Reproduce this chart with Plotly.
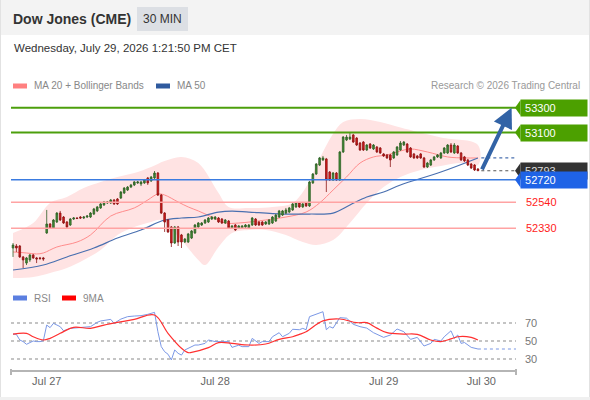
import plotly.graph_objects as go

W, H = 590, 400

# ---- candle data (30 min bars, index 0 = first bar on the chart)
opens = [52172, 52188, 52188, 52100, 52051, 52076, 52116, 52092, 52092, 52092,
         52293, 52365, 52333, 52381, 52453, 52421, 52381, 52357, 52405, 52413,
         52421, 52413, 52421, 52421, 52445, 52470, 52494, 52518, 52534, 52534,
         52558, 52566, 52574, 52614, 52638, 52662, 52679, 52695, 52687, 52695,
         52735, 52711, 52735, 52775, 52598, 52453, 52397, 52341, 52212, 52341,
         52277, 52220, 52220, 52252, 52293, 52341, 52357, 52373, 52381, 52405,
         52405, 52413, 52405, 52373, 52389, 52333, 52357, 52333, 52333, 52341,
         52333, 52357, 52405, 52381, 52381, 52365, 52365, 52373, 52389, 52421,
         52437, 52453, 52461, 52478, 52502, 52534, 52502, 52534, 52510, 52695,
         52767, 52839, 52880, 52888, 52783, 52719, 52775, 52719, 52944, 53040,
         53048, 53081, 53056, 53016, 53024, 52960, 53008, 52968, 52984, 52976,
         52928, 52920, 52920, 52896, 52920, 52960, 53000, 53008, 52976, 52928,
         52912, 52928, 52896, 52823, 52839, 52880, 52904, 52896, 52936, 52936,
         53000, 52936, 52992, 52936, 52904, 52880, 52847, 52839, 52807]
highs = [52212, 52204, 52196, 52108, 52100, 52124, 52124, 52100, 52100, 52100,
         52478, 52373, 52405, 52461, 52470, 52429, 52389, 52413, 52421, 52421,
         52429, 52429, 52437, 52461, 52494, 52510, 52534, 52550, 52550, 52566,
         52566, 52574, 52630, 52662, 52670, 52687, 52711, 52711, 52711, 52727,
         52743, 52751, 52791, 52783, 52606, 52461, 52405, 52349, 52349, 52349,
         52285, 52252, 52293, 52317, 52365, 52381, 52381, 52405, 52421, 52429,
         52429, 52421, 52413, 52405, 52397, 52357, 52365, 52357, 52357, 52365,
         52365, 52421, 52413, 52389, 52389, 52389, 52405, 52429, 52445, 52478,
         52478, 52494, 52502, 52534, 52542, 52542, 52534, 52542, 52711, 52775,
         52855, 52904, 52912, 52896, 52791, 52783, 52783, 52952, 53072, 53081,
         53097, 53089, 53064, 53024, 53032, 53008, 53016, 53008, 52992, 52984,
         52936, 52928, 52928, 52952, 52992, 53032, 53032, 53016, 52984, 52936,
         52920, 52936, 52904, 52864, 52888, 52912, 52928, 52944, 52984, 53008,
         53016, 53016, 53000, 52944, 52912, 52888, 52855, 52847, 52815]
lows = [52100, 52140, 52092, 52011, 52035, 52060, 52084, 52051, 52076, 52068,
        52285, 52325, 52325, 52373, 52389, 52365, 52333, 52349, 52397, 52405,
        52405, 52405, 52413, 52413, 52437, 52461, 52486, 52510, 52526, 52526,
        52518, 52518, 52566, 52606, 52630, 52654, 52670, 52687, 52670, 52687,
        52679, 52703, 52727, 52590, 52445, 52301, 52293, 52180, 52204, 52188,
        52172, 52212, 52212, 52244, 52285, 52333, 52349, 52365, 52373, 52397,
        52397, 52373, 52365, 52365, 52325, 52325, 52309, 52325, 52325, 52333,
        52325, 52349, 52349, 52349, 52349, 52357, 52357, 52365, 52381, 52413,
        52429, 52445, 52453, 52470, 52494, 52494, 52494, 52502, 52502, 52687,
        52759, 52831, 52872, 52622, 52711, 52711, 52711, 52711, 52936, 53032,
        53040, 53016, 52992, 52952, 52952, 52952, 52968, 52960, 52936, 52928,
        52904, 52888, 52823, 52888, 52912, 52952, 52992, 52936, 52896, 52888,
        52888, 52888, 52815, 52815, 52831, 52872, 52896, 52888, 52928, 52928,
        52936, 52928, 52928, 52872, 52864, 52831, 52807, 52791, 52791]
closes = [52196, 52172, 52100, 52076, 52092, 52116, 52092, 52084, 52088, 52084,
          52365, 52333, 52397, 52453, 52397, 52373, 52341, 52405, 52413, 52409,
          52413, 52421, 52429, 52453, 52486, 52502, 52526, 52542, 52542, 52558,
          52526, 52526, 52622, 52654, 52662, 52679, 52703, 52703, 52703, 52719,
          52695, 52743, 52775, 52598, 52453, 52381, 52301, 52212, 52341, 52220,
          52220, 52244, 52285, 52309, 52357, 52373, 52373, 52397, 52413, 52421,
          52421, 52381, 52373, 52397, 52333, 52349, 52317, 52349, 52349, 52357,
          52357, 52413, 52357, 52357, 52357, 52381, 52397, 52421, 52437, 52470,
          52470, 52478, 52494, 52526, 52534, 52502, 52526, 52510, 52703, 52767,
          52847, 52896, 52896, 52719, 52719, 52775, 52719, 52944, 53064, 53064,
          53064, 53024, 53000, 52960, 52960, 53000, 52976, 53000, 52944, 52936,
          52912, 52896, 52880, 52944, 52984, 53016, 53024, 52944, 52904, 52896,
          52896, 52896, 52823, 52855, 52880, 52904, 52920, 52936, 52976, 53000,
          52944, 53000, 52936, 52880, 52872, 52839, 52815, 52799, 52793]

# moving averages / bollinger bands at these bar indices
ma20_idx = [0, 4, 7, 9, 13, 19, 23, 29, 36, 40, 43, 45, 49, 52, 55, 59, 63, 67,
            75, 81, 87, 91, 95, 99, 103, 107, 111, 115, 118, 123, 129, 134, 138]
ma20 = [52140, 52132, 52124, 52132, 52180, 52220, 52277, 52429, 52494, 52558,
        52606, 52598, 52542, 52502, 52470, 52421, 52373, 52373, 52397, 52421,
        52461, 52534, 52638, 52743, 52855, 52904, 52920, 52952, 52968, 52944,
        52904, 52896, 52896]
upper_idx = [0, 6, 11, 16, 21, 26, 31, 36, 41, 45, 50, 55, 61, 64, 70, 77, 83,
             87, 91, 95, 98, 103, 109, 115, 127, 138]
upper = [52293, 52373, 52534, 52582, 52654, 52703, 52743, 52775, 52823, 52871,
         52904, 52855, 52614, 52502, 52494, 52502, 52534, 52662, 52890, 53090,
         53185, 53210, 53185, 53140, 53060, 53000]
lower_idx = [0, 6, 11, 16, 21, 26, 31, 36, 41, 44, 48, 50, 55, 57, 61, 65, 70,
             75, 81, 86, 90, 95, 100, 105, 110, 115, 121, 127, 133, 138]
lower = [51931, 51939, 51971, 52011, 52076, 52156, 52277, 52341, 52381, 52397,
         52293, 52236, 52076, 52035, 52180, 52293, 52317, 52317, 52277, 52220,
         52196, 52236, 52373, 52534, 52662, 52743, 52799, 52831, 52855, 52839]
ma50_idx = [0, 9, 16, 24, 31, 38, 45, 50, 55, 61, 65, 70, 80, 88, 95, 100, 105,
            110, 115, 127, 138]
ma50 = [51995, 52035, 52100, 52172, 52252, 52317, 52397, 52413, 52421, 52461,
        52469, 52461, 52445, 52445, 52453, 52518, 52582, 52622, 52679, 52783,
        52896]

# RSI panel
rsi_idx = [0, 1, 2, 3, 4, 6, 7, 8, 9, 10, 11, 12, 14, 15, 17, 19, 21, 23, 25, 26,
           29, 30, 32, 34, 36, 38, 40, 42, 43, 44, 45, 46, 47, 48, 49, 50, 51, 52,
           54, 55, 57, 58, 60, 62, 64, 65, 67, 68, 70, 71, 73, 74, 76, 77, 79, 80,
           82, 83, 85, 86, 87, 88, 90, 92, 93, 94, 95, 97, 99, 101, 103, 105, 107,
           110, 112, 114, 116, 118, 120, 122, 124, 125, 127, 128, 130, 131, 132,
           133, 134, 136, 138]
rsi = [57.4, 57, 50.8, 49, 46, 49.7, 49, 49, 50, 67.4, 64.5, 69.3, 65.6, 61, 63.7,
       64.5, 64.5, 65.6, 70.4, 71.9, 73.7, 69.3, 74, 76.7, 77.4, 77.8, 79.3, 81.5,
       60, 43.4, 37.8, 35, 28.6, 39.7, 36, 34, 39.7, 41.6, 45.2, 45.2, 47, 50.8,
       49, 49, 49, 42.6, 45, 43.4, 43.4, 52.6, 47, 49, 49, 54.4, 58.9, 54.4, 58.2,
       62.7, 62.2, 63.7, 62.2, 76.7, 79.3, 82.2, 62.2, 65.6, 64, 75.6, 75, 68.2,
       65.6, 64, 58.9, 53.7, 56.3, 63, 60, 51.5, 53.7, 44.1, 47, 51.5, 49.7, 54.4,
       61, 52.6, 56.3, 47, 48, 42.6, 40.8]
ma9_idx = [0, 4, 6, 9, 11, 14, 18, 23, 27, 31, 36, 42, 46, 50, 52, 53, 58, 61, 65,
           70, 75, 79, 83, 85, 87, 92, 97, 102, 105, 108, 111, 116, 120, 124, 127,
           130, 132, 136, 138]
ma9 = [57.4, 58.2, 54.4, 50.8, 52.6, 58.2, 64.9, 63.7, 67.4, 70.4, 73.7, 78.5,
       58.2, 41.6, 36.7, 37.1, 42.3, 47.8, 47, 45.2, 46.3, 51.5, 54.4, 57, 60, 72,
       74.1, 70, 70, 64, 58.9, 57.4, 57, 50.8, 49, 52, 54.4, 53.7, 50.8]

day_ticks = [10, 60, 110, 139]
day_labels = ["Jul 27", "Jul 28", "Jul 29", "Jul 30"]

target_hi, target_lo = 53300, 53100
pivot = 52720
supports = [52540, 52330]

# ---- helpers for placing things in pixel terms
def px(x):
    return x / W

def py(y):
    return 1 - y / H

FONT = "Liberation Sans, Arial, sans-serif"
last = len(closes) - 1
x_lo, x_hi = -0.6, 149.3
y_lo, y_hi = 51874.5, 53402.1
x_dom = [px(11), px(516)]

fig = go.Figure()

# bollinger band fill
fig.add_trace(go.Scatter(
    x=upper_idx + lower_idx[::-1], y=upper + lower[::-1],
    fill="toself", fillcolor="#ffe3e3", mode="lines",
    line=dict(width=0, shape="spline", smoothing=1.0),
    hoverinfo="skip", showlegend=False))
fig.add_trace(go.Scatter(x=ma20_idx, y=ma20, mode="lines",
                         line=dict(color="#ff8c8c", width=1, shape="spline"),
                         showlegend=False))
fig.add_trace(go.Scatter(x=ma50_idx, y=ma50, mode="lines",
                         line=dict(color="#4a70b0", width=1.2, shape="spline"),
                         showlegend=False))

# candles on an overlaying axis so they sit above the band fill
fig.add_trace(go.Candlestick(
    x=list(range(len(closes))), open=opens, high=highs, low=lows, close=closes,
    yaxis="y3",
    increasing=dict(line=dict(color="#2f5f24", width=0.8), fillcolor="#3f8f36"),
    decreasing=dict(line=dict(color="#8c1414", width=0.8), fillcolor="#d61818"),
    whiskerwidth=0, showlegend=False))

# RSI panel
fig.add_trace(go.Scatter(x=rsi_idx, y=rsi, mode="lines", xaxis="x2", yaxis="y2",
                         line=dict(color="#7b98e6", width=1), showlegend=False))
fig.add_trace(go.Scatter(x=ma9_idx, y=ma9, mode="lines", xaxis="x2", yaxis="y2",
                         line=dict(color="#ff3030", width=1.2, shape="spline"),
                         showlegend=False))

shapes = []
# header band and frame
shapes.append(dict(type="rect", xref="paper", yref="paper", x0=0, x1=1,
                   y0=py(35), y1=1, fillcolor="#f3f3f3", line_width=0, layer="below"))
shapes.append(dict(type="rect", xref="paper", yref="paper", x0=px(137), x1=px(188),
                   y0=py(31), y1=py(7), fillcolor="#dcdfe4", line_width=0, layer="below"))
shapes.append(dict(type="rect", xref="paper", yref="paper", x0=0, x1=1,
                   y0=0, y1=py(397), fillcolor="#f0f0f0", line_width=0, layer="below"))
shapes.append(dict(type="line", xref="paper", yref="paper", x0=px(0.5), x1=px(0.5),
                   y0=py(397), y1=1, line=dict(color="#e2e2e2", width=1)))
shapes.append(dict(type="line", xref="paper", yref="paper", x0=px(589.5), x1=px(589.5),
                   y0=py(397), y1=1, line=dict(color="#e2e2e2", width=1)))

# level lines
for lvl in (target_hi, target_lo):
    shapes.append(dict(type="line", xref="x domain", yref="y", x0=0, x1=1, y0=lvl, y1=lvl,
                       line=dict(color="#4c9f0c", width=2)))
shapes.append(dict(type="line", xref="x domain", yref="y", x0=0, x1=1, y0=pivot, y1=pivot,
                   line=dict(color="#3a7be0", width=1.5)))
for lvl in supports:
    shapes.append(dict(type="line", xref="x domain", yref="y", x0=0, x1=1, y0=lvl, y1=lvl,
                       line=dict(color="#ffa3a3", width=1.5)))

# dotted extensions from the last bar
shapes.append(dict(type="line", xref="x", yref="y", x0=last + 1, x1=x_hi, y0=ma50[-1],
                   y1=ma50[-1], line=dict(color="#4a70b0", width=1.2, dash="dot")))
shapes.append(dict(type="line", xref="x", yref="y", x0=last + 1, x1=x_hi, y0=closes[-1],
                   y1=closes[-1], line=dict(color="#555555", width=1.2, dash="dot")))
shapes.append(dict(type="line", xref="x2", yref="y2", x0=last, x1=x_hi, y0=rsi[-1],
                   y1=rsi[-1], line=dict(color="#7b98e6", width=1.2, dash="dot")))

# axis end ticks
for xx in (11, 516):
    shapes.append(dict(type="line", xref="paper", yref="paper", x0=px(xx), x1=px(xx),
                       y0=py(375), y1=py(369), line=dict(color="#b5b5b5", width=2)))

annotations = []

# price tags on the right
tags = [(target_hi, "#4ca000", "white"), (target_lo, "#4ca000", "white"),
        (closes[-1], "#333333", "#dddddd"), (pivot, "#1f63e6", "white")]
for val, bg, fg in tags:
    annotations.append(dict(
        xref="paper", yref="y", x=px(520), y=val, xanchor="left", yanchor="middle",
        text="&nbsp;" + str(val), showarrow=False, bgcolor=bg, width=64, height=14,
        borderpad=1, align="left", font=dict(family=FONT, size=11, color=fg)))
    shapes.append(dict(type="path", xref="paper", yref="y",
                       path="M {},{} L {},{} L {},{} Z".format(
                           px(515), val, px(520.5), val + 62, px(520.5), val - 62),
                       fillcolor=bg, line_width=0))
for lvl in supports:
    annotations.append(dict(xref="paper", yref="y", x=px(524), y=lvl, xanchor="left",
                            yanchor="middle", text=str(lvl), showarrow=False,
                            font=dict(family=FONT, size=11, color="#ff1c1c")))

# target arrow
annotations.append(dict(xref="x", yref="y", axref="x", ayref="y", x=last + 10,
                        y=target_hi, ax=last + 1, ay=closes[-1], text="", showarrow=True,
                        arrowhead=2, arrowsize=1, arrowwidth=4, arrowcolor="#3263a6"))

# header texts
annotations += [
    dict(xref="paper", yref="paper", x=px(11), y=py(19), xanchor="left", yanchor="middle",
         text="<b>Dow Jones (CME)</b>", showarrow=False,
         font=dict(family=FONT, size=14, color="#333333")),
    dict(xref="paper", yref="paper", x=px(162.5), y=py(19), xanchor="center",
         yanchor="middle", text="30 MIN", showarrow=False,
         font=dict(family=FONT, size=12, color="#333333")),
    dict(xref="paper", yref="paper", x=px(12), y=py(48), xanchor="left", yanchor="middle",
         text="Wednesday, July 29, 2026 1:21:50 PM CET", showarrow=False,
         font=dict(family=FONT, size=11.5, color="#333333")),
    dict(xref="paper", yref="paper", x=px(582), y=py(86), xanchor="right",
         yanchor="middle", text="Research © 2026 Trading Central", showarrow=False,
         font=dict(family=FONT, size=10, color="#999999")),
]

# hand-made legends
legend_items = [(13, 86, "#ff8080", "MA 20 + Bollinger Bands"),
                (156, 86, "#2f5a9e", "MA 50"),
                (13, 298, "#5b7fe0", "RSI"),
                (62, 298, "#ff0000", "9MA")]
for lx, ly, col, label in legend_items:
    shapes.append(dict(type="rect", xref="paper", yref="paper", x0=px(lx), x1=px(lx + 14),
                       y0=py(ly + 2.5), y1=py(ly - 2.5), fillcolor=col, line_width=0))
    annotations.append(dict(xref="paper", yref="paper", x=px(lx + 19), y=py(ly),
                            xanchor="left", yanchor="middle", text=label, showarrow=False,
                            font=dict(family=FONT, size=10, color="#888888")))

fig.update_layout(
    width=W, height=H, margin=dict(l=0, r=0, t=0, b=0),
    paper_bgcolor="white", plot_bgcolor="white", showlegend=False,
    font=dict(family=FONT), hovermode=False,
    xaxis=dict(domain=x_dom, range=[x_lo, x_hi], visible=False, anchor="y",
               rangeslider=dict(visible=False)),
    yaxis=dict(domain=[py(285), py(95)], range=[y_lo, y_hi], visible=False,
               anchor="x"),
    yaxis3=dict(range=[y_lo, y_hi], visible=False, overlaying="y", anchor="x"),
    xaxis2=dict(domain=x_dom, range=[x_lo, x_hi], anchor="y2", showgrid=False,
                zeroline=False, showline=True, linecolor="#b5b5b5", linewidth=2,
                tickvals=day_ticks, ticktext=day_labels, ticks="",
                tickfont=dict(family=FONT, size=11, color="#666666")),
    yaxis2=dict(domain=[py(370), py(305)], range=[17.44, 89.67], anchor="x2",
                side="right", tickvals=[30, 50, 70], ticks="", showline=False,
                zeroline=False, showgrid=True, gridcolor="#c4c4c4", griddash="dot",
                gridwidth=1.5, ticklabelstandoff=8,
                tickfont=dict(family=FONT, size=11, color="#777777")),
    shapes=shapes, annotations=annotations,
)

fig.write_html("out.html", config={"displayModeBar": False},
               post_script="document.body.style.margin='0';")
